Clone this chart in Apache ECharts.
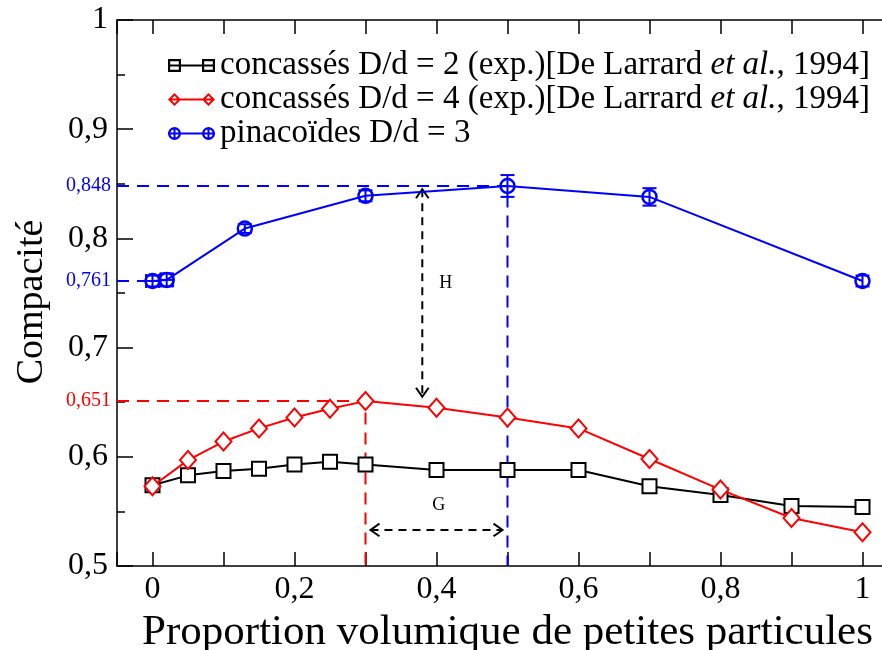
<!DOCTYPE html>
<html><head><meta charset="utf-8">
<script src="https://cdn.jsdelivr.net/npm/echarts@6/dist/echarts.min.js"></script>
<style>html,body{margin:0;padding:0;background:#fff}#c{width:882px;height:650px}</style>
</head><body><div id="c"></div>
<script>
// ---------- data ----------
const seriesNames = [
  'concassés D/d = 2 (exp.)[De Larrard et al., 1994]',
  'concassés D/d = 4 (exp.)[De Larrard et al., 1994]',
  'pinacoïdes D/d = 3'
];
const xConcasses = [0, 0.05, 0.1, 0.15, 0.2, 0.25, 0.3, 0.4, 0.5, 0.6, 0.7, 0.8, 0.9, 1];
const yConcasses2 = [0.574, 0.583, 0.587, 0.589, 0.593, 0.5955, 0.593, 0.588, 0.588, 0.588, 0.573, 0.565, 0.555, 0.554];
const yConcasses4 = [0.573, 0.597, 0.614, 0.626, 0.636, 0.644, 0.651, 0.645, 0.636, 0.626, 0.598, 0.570, 0.544, 0.531];
const xPinacoides = [0, 0.02, 0.13, 0.3, 0.5, 0.7, 1];
const yPinacoides = [0.761, 0.762, 0.809, 0.839, 0.848, 0.838, 0.761];
const errYPinacoides = [0.005, 0.006, 0.004, 0.005, 0.010, 0.008, 0.005];
const errXPinacoides = [0.009, 0.009, 0, 0, 0, 0, 0];
const xTickLabels = ['0', '0,2', '0,4', '0,6', '0,8', '1'];
const yTickLabels = ['0,5', '0,6', '0,7', '0,8', '0,9', '1'];
const xTitle = 'Proportion volumique de petites particules';
const yTitle = 'Compacité';
// reference guide lines
const blueGuide = [[-0.05, 0.848], [0.5, 0.848], [0.5, 0.5]];
const blueGuide2 = [[-0.05, 0.761], [0, 0.761]];
const redGuide = [[-0.05, 0.651], [0.3, 0.651], [0.3, 0.5]];
const guideLabelValues = [0.848, 0.761, 0.651];
// double arrows [x1, y1, x2, y2]
const arrowH = [0.38, 0.845, 0.38, 0.655];
const arrowG = [0.307, 0.533, 0.493, 0.533];
const textLabels = [[0.413, 0.759, 'H'], [0.403, 0.556, 'G']];

// ---------- chart ----------
const SERIF = '"Liberation Serif", "DejaVu Serif", serif';
const chart = echarts.init(document.getElementById('c'));
const zip = (xs, ys) => xs.map((x, i) => [x, ys[i]]);
const xLabelFor = v => { const i = Math.round(v / 0.2); return Math.abs(v - i * 0.2) < 1e-6 && i >= 0 && i < xTickLabels.length ? xTickLabels[i] : ''; };
const yLabelFor = v => { const i = Math.round((v - 0.5) / 0.1); return Math.abs(v - 0.5 - i * 0.1) < 1e-6 && i >= 0 && i < yTickLabels.length ? yTickLabels[i] : ''; };

const iconSq = 'path://M0 0L13 0L13 13L0 13Z M2.2 2.2L2.2 10.8L10.8 10.8L10.8 2.2Z M0 5.5L47 5.5L47 7.5L0 7.5Z M34 0L47 0L47 13L34 13Z M36.2 2.2L36.2 10.8L44.8 10.8L44.8 2.2Z';
const iconDi = 'path://M6.5 0L13 6.5L6.5 13L0 6.5Z M6.5 2.8L2.8 6.5L6.5 10.2L10.2 6.5Z M2 5.5L45 5.5L45 7.5L2 7.5Z M40.5 0L47 6.5L40.5 13L34 6.5Z M40.5 2.8L36.8 6.5L40.5 10.2L44.2 6.5Z';
const iconCi = 'path://M0 6.5A6.5 6.5 0 1 1 13 6.5A6.5 6.5 0 1 1 0 6.5Z M2.4 6.5A4.1 4.1 0 1 0 10.6 6.5A4.1 4.1 0 1 0 2.4 6.5Z M5.5 0L7.5 0L7.5 13L5.5 13Z M0 5.5L47 5.5L47 7.5L0 7.5Z M34 6.5A6.5 6.5 0 1 1 47 6.5A6.5 6.5 0 1 1 34 6.5Z M36.4 6.5A4.1 4.1 0 1 0 44.6 6.5A4.1 4.1 0 1 0 36.4 6.5Z M39.5 0L41.5 0L41.5 13L39.5 13Z';

function errRender(params, api) {
  const x = api.value(0), y = api.value(1), ex = api.value(2), ey = api.value(3);
  const c = '#0000ff', cap = 7, kids = [];
  const a = api.coord([x, y - ey]), b = api.coord([x, y + ey]);
  kids.push({type: 'line', shape: {x1: a[0], y1: a[1], x2: b[0], y2: b[1]}, style: {stroke: c, lineWidth: 2}});
  kids.push({type: 'line', shape: {x1: a[0] - cap, y1: a[1], x2: a[0] + cap, y2: a[1]}, style: {stroke: c, lineWidth: 2}});
  kids.push({type: 'line', shape: {x1: b[0] - cap, y1: b[1], x2: b[0] + cap, y2: b[1]}, style: {stroke: c, lineWidth: 2}});
  if (ex > 0) {
    const l = api.coord([x - ex, y]), r = api.coord([x + ex, y]);
    kids.push({type: 'line', shape: {x1: l[0], y1: l[1], x2: r[0], y2: r[1]}, style: {stroke: c, lineWidth: 2}});
    kids.push({type: 'line', shape: {x1: l[0], y1: l[1] - cap, x2: l[0], y2: l[1] + cap}, style: {stroke: c, lineWidth: 2}});
    kids.push({type: 'line', shape: {x1: r[0], y1: r[1] - cap, x2: r[0], y2: r[1] + cap}, style: {stroke: c, lineWidth: 2}});
  }
  return {type: 'group', children: kids};
}
function arrowRender(params, api) {
  const p1 = api.coord([api.value(0), api.value(1)]);
  const p2 = api.coord([api.value(2), api.value(3)]);
  const dx = p2[0] - p1[0], dy = p2[1] - p1[1], len = Math.hypot(dx, dy);
  const ux = dx / len, uy = dy / len, s = 9;
  const chev = (p, d) => {
    const px = -d[1], py = d[0];
    return [[p[0] - d[0] * s + px * s * 0.7, p[1] - d[1] * s + py * s * 0.7], [p[0], p[1]],
            [p[0] - d[0] * s - px * s * 0.7, p[1] - d[1] * s - py * s * 0.7]];
  };
  return {type: 'group', children: [
    {type: 'line', shape: {x1: p1[0], y1: p1[1], x2: p2[0], y2: p2[1]}, style: {stroke: '#000', lineWidth: 2, lineDash: [8, 6]}},
    {type: 'polyline', shape: {points: chev(p1, [-ux, -uy])}, style: {stroke: '#000', lineWidth: 2, fill: null}},
    {type: 'polyline', shape: {points: chev(p2, [ux, uy])}, style: {stroke: '#000', lineWidth: 2, fill: null}}
  ]};
}
const guideColors = ['#0000ff', '#0000ff', '#ff0000'];
function guideLabelRender(params, api) {
  const p = api.coord([-0.05, api.value(1)]);
  return {type: 'text', x: p[0] - 6, y: p[1],
    style: {text: String(api.value(1)).replace('.', ','), fill: guideColors[params.dataIndex],
      font: '20px ' + SERIF, textAlign: 'right', textVerticalAlign: 'middle'}};
}
function textRender(params, api) {
  const p = api.coord([api.value(0), api.value(1)]);
  return {type: 'text', x: p[0], y: p[1],
    style: {text: textLabels[params.dataIndex][2], fill: '#000', font: '18px ' + SERIF, textAlign: 'center', textVerticalAlign: 'middle'}};
}

const axisCommon = {
  type: 'value', min: -0.05, max: 1.05, splitNumber: 5,
  axisLine: {onZero: false, lineStyle: {color: '#000', width: 1.5}},
  axisTick: {inside: true, length: 14, lineStyle: {color: '#000', width: 1.5}},
  minorTick: {show: true, splitNumber: 2, length: 14, lineStyle: {color: '#000', width: 1.5}},
  splitLine: {show: false}
};

const option = {
  backgroundColor: '#fff',
  animation: false,
  grid: {left: 117, top: 20, width: 781, height: 546, containLabel: false, outerBoundsMode: 'none'},
  legend: {
    orient: 'vertical', left: 163, top: 44, itemWidth: 47, itemHeight: 13, itemGap: 1,
    textStyle: {fontFamily: SERIF, fontSize: 33, color: '#000',
      rich: {i: {fontFamily: SERIF, fontSize: 33, fontStyle: 'italic', color: '#000'}}},
    formatter: n => n.replace('et al.', '{i|et al.}'),
    data: [
      {name: seriesNames[0], icon: iconSq, itemStyle: {color: '#000', borderWidth: 0}},
      {name: seriesNames[1], icon: iconDi, itemStyle: {color: '#ff0000', borderWidth: 0}},
      {name: seriesNames[2], icon: iconCi, itemStyle: {color: '#0000ff', borderWidth: 0}}
    ]
  },
  xAxis: [
    Object.assign({}, axisCommon, {
      position: 'bottom', name: xTitle, nameLocation: 'middle', nameGap: 38,
      nameTextStyle: {fontFamily: SERIF, fontSize: 43, color: '#000'},
      axisLabel: {fontFamily: SERIF, fontSize: 32, color: '#000', margin: 8, formatter: xLabelFor}
    }),
    Object.assign({}, axisCommon, {position: 'top', axisLabel: {show: false}})
  ],
  yAxis: [
    {type: 'value', min: 0.5, max: 1, interval: 0.1, position: 'left',
      name: yTitle, nameLocation: 'middle', nameGap: 66,
      nameTextStyle: {fontFamily: SERIF, fontSize: 38, color: '#000', padding: [0, 18, 0, 0]},
      axisLine: {onZero: false, lineStyle: {color: '#000', width: 1.5}},
      axisTick: {inside: true, length: 16, lineStyle: {color: '#000', width: 1.5}},
      minorTick: {show: true, splitNumber: 2, length: 8, lineStyle: {color: '#000', width: 1.5}},
      axisLabel: {fontFamily: SERIF, fontSize: 32, color: '#000', margin: 9, formatter: yLabelFor},
      splitLine: {show: false}}
  ],
  series: [
    {type: 'line', silent: true, data: blueGuide, symbol: 'none', lineStyle: {color: '#0000ff', width: 2, type: [12, 8]}, z: 1},
    {type: 'line', silent: true, data: blueGuide2, symbol: 'none', lineStyle: {color: '#0000ff', width: 2, type: [12, 8]}, z: 1},
    {type: 'line', silent: true, data: redGuide, symbol: 'none', lineStyle: {color: '#ff0000', width: 2, type: [12, 8]}, z: 1},
    {type: 'custom', silent: true, renderItem: arrowRender, data: [arrowH, arrowG], z: 1},
    {type: 'custom', silent: true, renderItem: textRender, data: textLabels.map(t => [t[0], t[1]]), z: 1},
    {type: 'custom', silent: true, clip: false, renderItem: guideLabelRender, data: guideLabelValues.map(v => [-0.05, v]), z: 5},
    {name: seriesNames[0], type: 'line', data: zip(xConcasses, yConcasses2), symbol: 'rect', symbolSize: 14,
      itemStyle: {color: '#fff', borderColor: '#000', borderWidth: 2}, lineStyle: {color: '#000', width: 2}, color: '#000', z: 3},
    {name: seriesNames[1], type: 'line', data: zip(xConcasses, yConcasses4), symbol: 'diamond', symbolSize: [16, 18],
      itemStyle: {color: '#fff', borderColor: '#ff0000', borderWidth: 2}, lineStyle: {color: '#ff0000', width: 2}, color: '#ff0000', z: 4},
    {name: seriesNames[2], type: 'line', data: zip(xPinacoides, yPinacoides), symbol: 'circle', symbolSize: 14,
      itemStyle: {color: 'rgba(255,255,255,0)', borderColor: '#0000ff', borderWidth: 2.5}, lineStyle: {color: '#0000ff', width: 2}, color: '#0000ff', z: 4},
    {type: 'custom', silent: true, renderItem: errRender,
      data: xPinacoides.map((x, i) => [x, yPinacoides[i], errXPinacoides[i], errYPinacoides[i]]), z: 5}
  ]
};
chart.setOption(option);
</script>
</body></html>
